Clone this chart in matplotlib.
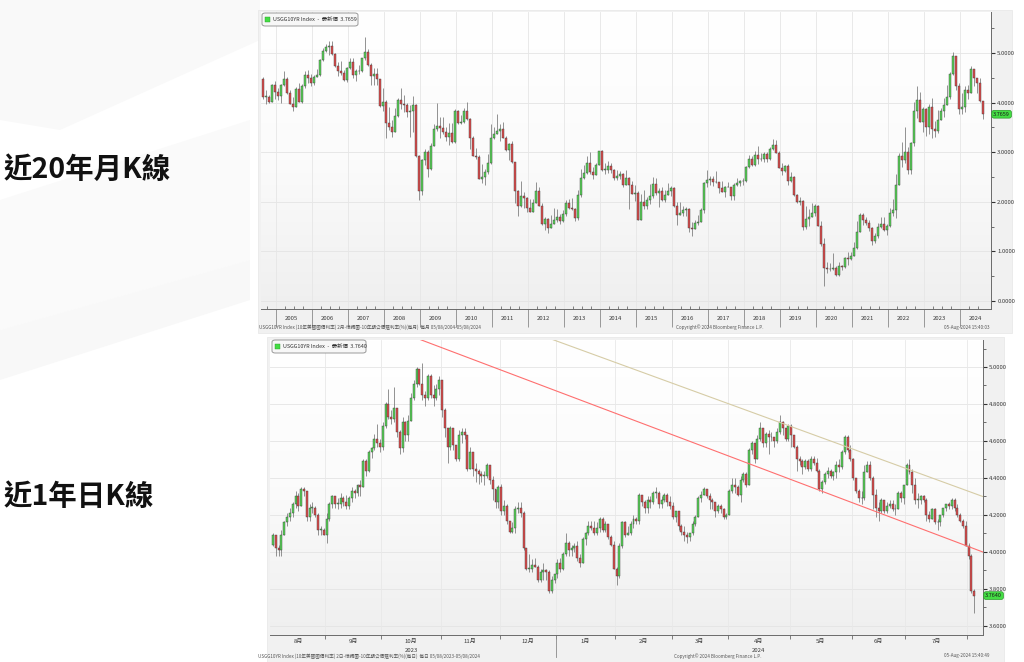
import numpy as np
import pandas as pd
import matplotlib
matplotlib.use('Agg')
import matplotlib.pyplot as plt
from matplotlib.transforms import blended_transform_factory as btf
from matplotlib.patches import Rectangle, Polygon
from matplotlib.colors import LinearSegmentedColormap

plt.rcParams['font.family'] = ['Noto Sans CJK TC', 'DejaVu Sans']

# ---------------- monthly data (Aug 2004 - Aug 2024) ----------------
m_start = '2004-08-01'
m_open0 = 4.47
m_close = [
    4.12, 4.12, 4.02, 4.35, 4.22,
    4.13, 4.36, 4.48, 4.20, 3.98, 3.92, 4.28, 4.02, 4.33, 4.56, 4.49, 4.39,
    4.52, 4.55, 4.85, 5.05, 5.12, 5.14, 4.98, 4.73, 4.63, 4.60, 4.46, 4.70,
    4.82, 4.56, 4.64, 4.63, 4.89, 5.03, 4.76, 4.53, 4.58, 4.47, 3.94, 4.02,
    3.59, 3.51, 3.41, 3.73, 4.06, 3.97, 3.95, 3.81, 3.83, 3.95, 2.92, 2.21,
    2.84, 3.01, 2.66, 3.12, 3.46, 3.53, 3.48, 3.40, 3.31, 3.38, 3.20, 3.84,
    3.58, 3.61, 3.83, 3.66, 3.29, 2.93, 2.91, 2.47, 2.51, 2.60, 2.79, 3.29,
    3.37, 3.42, 3.47, 3.29, 3.05, 3.16, 2.80, 2.22, 1.92, 2.11, 2.07, 1.88,
    1.80, 1.97, 2.21, 1.91, 1.56, 1.65, 1.47, 1.55, 1.63, 1.69, 1.61, 1.76,
    1.98, 1.88, 1.85, 1.67, 2.13, 2.49, 2.58, 2.78, 2.61, 2.55, 2.74, 3.03,
    2.64, 2.65, 2.72, 2.65, 2.48, 2.53, 2.56, 2.34, 2.49, 2.34, 2.16, 2.17,
    1.64, 1.99, 1.92, 2.03, 2.12, 2.35, 2.18, 2.21, 2.04, 2.14, 2.21, 2.27,
    1.92, 1.73, 1.77, 1.83, 1.85, 1.47, 1.45, 1.58, 1.59, 1.83, 2.38, 2.44,
    2.45, 2.39, 2.39, 2.28, 2.20, 2.30, 2.29, 2.12, 2.33, 2.38, 2.41, 2.41,
    2.71, 2.86, 2.74, 2.95, 2.86, 2.86, 2.96, 2.86, 3.06, 3.14, 2.99, 2.68,
    2.63, 2.72, 2.41, 2.50, 2.13, 2.00, 2.01, 1.50, 1.66, 1.69, 1.78, 1.92,
    1.51, 1.15, 0.67, 0.64, 0.65, 0.66, 0.53, 0.70, 0.68, 0.87, 0.84, 0.91,
    1.07, 1.40, 1.74, 1.63, 1.58, 1.47, 1.22, 1.31, 1.49, 1.55, 1.44, 1.51,
    1.78, 1.83, 2.34, 2.93, 2.84, 3.01, 2.65, 3.19, 3.83, 4.05, 3.61, 3.87,
    3.51, 3.92, 3.47, 3.42, 3.64, 3.84, 3.96, 4.11, 4.57, 4.93, 4.33, 3.88,
    3.91, 4.25, 4.20, 4.68, 4.50, 4.40, 4.03, 3.7659,
]
m_high = [
    4.52, 4.25, 4.16, 4.38, 4.44,
    4.30, 4.38, 4.64, 4.52, 4.25, 4.12, 4.32, 4.39, 4.37, 4.64, 4.66, 4.57,
    4.55, 4.67, 4.87, 5.11, 5.19, 5.25, 5.24, 5.00, 4.81, 4.83, 4.65, 4.71,
    4.90, 4.90, 4.68, 4.76, 4.90, 5.32, 5.09, 4.80, 4.69, 4.70, 4.48, 4.29,
    4.05, 3.92, 3.64, 3.89, 4.10, 4.30, 4.15, 3.99, 3.95, 4.13, 3.98, 2.95,
    2.87, 3.07, 3.05, 3.19, 3.57, 4.00, 3.72, 3.71, 3.51, 3.58, 3.59, 3.87,
    3.86, 3.76, 3.90, 4.01, 3.68, 3.33, 3.08, 2.95, 2.76, 2.66, 2.97, 3.56,
    3.50, 3.77, 3.56, 3.60, 3.32, 3.18, 3.23, 2.80, 2.23, 2.42, 2.19, 2.09,
    2.05, 2.06, 2.40, 2.30, 1.97, 1.70, 1.68, 1.73, 1.87, 1.85, 1.76, 1.84,
    2.04, 2.06, 2.08, 1.87, 2.23, 2.66, 2.74, 2.92, 3.01, 2.70, 2.79, 3.03,
    3.05, 2.79, 2.83, 2.78, 2.67, 2.65, 2.62, 2.58, 2.65, 2.51, 2.42, 2.33,
    2.21, 2.16, 2.24, 2.09, 2.36, 2.50, 2.48, 2.27, 2.29, 2.24, 2.38, 2.32,
    2.30, 2.00, 1.99, 1.91, 1.89, 1.87, 1.60, 1.63, 1.74, 1.87, 2.40, 2.64,
    2.53, 2.52, 2.63, 2.40, 2.42, 2.32, 2.40, 2.30, 2.37, 2.48, 2.43, 2.49,
    2.73, 2.95, 2.92, 3.03, 3.13, 2.98, 3.00, 3.01, 3.10, 3.26, 3.24, 3.02,
    2.79, 2.74, 2.76, 2.60, 2.52, 2.16, 2.10, 2.03, 1.91, 1.85, 1.97, 1.96,
    1.94, 1.62, 1.27, 0.78, 0.77, 0.96, 0.70, 0.78, 0.72, 0.89, 0.98, 0.98,
    1.19, 1.61, 1.78, 1.77, 1.70, 1.63, 1.49, 1.38, 1.57, 1.70, 1.69, 1.55,
    1.88, 2.05, 2.56, 2.98, 3.20, 3.50, 3.10, 3.20, 4.01, 4.34, 4.21, 3.91,
    3.90, 3.98, 4.09, 3.62, 3.86, 3.89, 4.09, 4.36, 4.61, 5.02, 4.92, 4.40,
    4.19, 4.33, 4.35, 4.74, 4.63, 4.48, 4.50, 4.00,
]
m_low = [
    4.08, 3.98, 3.99, 4.01, 4.07,
    4.06, 4.00, 4.33, 4.18, 3.97, 3.84, 3.91, 4.01, 3.99, 4.29, 4.39, 4.34,
    4.35, 4.51, 4.53, 4.84, 5.03, 4.97, 4.97, 4.72, 4.53, 4.55, 4.44, 4.42,
    4.67, 4.49, 4.44, 4.58, 4.62, 4.86, 4.74, 4.36, 4.35, 4.35, 3.91, 3.83,
    3.28, 3.45, 3.31, 3.43, 3.70, 3.88, 3.82, 3.72, 3.30, 3.41, 2.90, 2.04,
    2.14, 2.74, 2.51, 2.64, 3.13, 3.43, 3.29, 3.36, 3.22, 3.15, 3.19, 3.18,
    3.56, 3.56, 3.58, 3.64, 3.06, 2.93, 2.86, 2.47, 2.38, 2.33, 2.56, 2.77,
    3.26, 3.39, 3.22, 3.28, 3.02, 2.84, 2.78, 1.98, 1.72, 1.89, 1.88, 1.79,
    1.80, 1.89, 1.97, 1.91, 1.53, 1.44, 1.38, 1.50, 1.57, 1.60, 1.55, 1.59,
    1.72, 1.86, 1.83, 1.61, 1.63, 2.10, 2.45, 2.57, 2.56, 2.47, 2.54, 2.74,
    2.63, 2.57, 2.59, 2.58, 2.44, 2.44, 2.45, 2.30, 2.33, 1.86, 2.15, 2.02,
    1.64, 1.68, 1.86, 1.85, 1.95, 2.08, 2.14, 1.90, 2.02, 1.99, 2.13, 2.12,
    1.90, 1.53, 1.73, 1.71, 1.71, 1.39, 1.32, 1.50, 1.53, 1.59, 1.77, 2.29,
    2.33, 2.31, 2.37, 2.17, 2.19, 2.10, 2.29, 2.03, 2.04, 2.31, 2.31, 2.33,
    2.40, 2.69, 2.73, 2.73, 2.76, 2.82, 2.81, 2.81, 2.84, 3.05, 2.98, 2.68,
    2.55, 2.61, 2.34, 2.39, 2.12, 1.97, 1.94, 1.43, 1.46, 1.51, 1.69, 1.71,
    1.51, 1.11, 0.31, 0.57, 0.60, 0.62, 0.50, 0.50, 0.62, 0.67, 0.73, 0.82,
    0.90, 1.05, 1.39, 1.53, 1.54, 1.42, 1.13, 1.17, 1.28, 1.47, 1.42, 1.34,
    1.50, 1.72, 1.68, 2.34, 2.71, 2.79, 2.57, 2.57, 3.13, 3.69, 3.61, 3.40,
    3.32, 3.37, 3.29, 3.31, 3.38, 3.64, 3.72, 3.98, 4.07, 4.55, 4.26, 3.78,
    3.78, 3.82, 4.07, 4.29, 4.33, 4.19, 4.01, 3.67,
]
m_years = list(range(2005, 2025))
m_last = 3.7659

# ---------------- daily data (07 Aug 2023 - 05 Aug 2024) ----------------
d_start, d_end = '2023-08-07', '2024-08-05'
d_holidays = ['2023-09-04', '2023-10-09', '2023-11-23', '2023-12-25', '2024-01-01',
              '2024-01-15', '2024-02-19', '2024-03-29', '2024-05-27', '2024-06-19',
              '2024-07-04']
d_open0 = 4.04
d_close = [
    4.09, 4.02, 4.01, 4.09, 4.16, 4.19, 4.21, 4.26, 4.30, 4.25, 4.34, 4.33, 4.19, 4.24, 4.24, 4.20, 4.12, 4.12, 4.09,
    4.18, 4.26, 4.30, 4.26, 4.26, 4.29, 4.27, 4.25, 4.29, 4.33, 4.32, 4.36, 4.35, 4.49, 4.44, 4.54, 4.56, 4.61, 4.59, 4.57,
    4.68, 4.80, 4.73, 4.72, 4.78, 4.65, 4.56, 4.70, 4.63, 4.71, 4.83, 4.91, 4.99, 4.91, 4.85, 4.83, 4.95, 4.85, 4.83, 4.88, 4.93,
    4.77, 4.67, 4.57, 4.67, 4.58, 4.50, 4.63, 4.65, 4.63, 4.45, 4.54, 4.45, 4.44, 4.42, 4.41, 4.41, 4.47, 4.39, 4.34, 4.27, 4.35,
    4.22, 4.25, 4.17, 4.11, 4.13, 4.23, 4.24, 4.21, 4.02, 3.91, 3.91, 3.93, 3.92, 3.85, 3.89, 3.90, 3.89, 3.79, 3.85, 3.88,
    3.94, 3.91, 3.99, 4.05, 4.01, 4.02, 4.03, 3.97, 3.94, 4.07, 4.10, 4.14, 4.13, 4.10, 4.13, 4.18, 4.12, 4.15, 4.08, 4.04, 3.91,
    3.87, 4.03, 4.16, 4.09, 4.10, 4.15, 4.18, 4.17, 4.31, 4.27, 4.24, 4.28, 4.27, 4.32, 4.32, 4.26, 4.28, 4.31, 4.27, 4.25,
    4.19, 4.22, 4.14, 4.11, 4.09, 4.08, 4.10, 4.15, 4.19, 4.29, 4.31, 4.34, 4.30, 4.28, 4.27, 4.22, 4.25, 4.23, 4.19, 4.20,
    4.33, 4.36, 4.35, 4.31, 4.39, 4.42, 4.36, 4.55, 4.59, 4.50, 4.61, 4.67, 4.59, 4.64, 4.62, 4.62, 4.60, 4.65, 4.70, 4.67, 4.61, 4.68,
    4.63, 4.57, 4.50, 4.49, 4.46, 4.49, 4.45, 4.50, 4.48, 4.44, 4.34, 4.38, 4.42, 4.44, 4.41, 4.43, 4.47, 4.46, 4.54, 4.62, 4.55, 4.50,
    4.40, 4.33, 4.29, 4.29, 4.43, 4.47, 4.40, 4.31, 4.24, 4.22, 4.28, 4.22, 4.25, 4.26, 4.23, 4.23, 4.32, 4.29, 4.36,
    4.47, 4.43, 4.36, 4.28, 4.28, 4.30, 4.28, 4.20, 4.18, 4.23, 4.16, 4.16, 4.20, 4.24, 4.26, 4.25, 4.28, 4.24, 4.20, 4.17, 4.14, 4.03,
    3.98, 3.79, 3.7640,
]
d_high = [
    4.10, 4.09, 4.04, 4.12, 4.17, 4.21, 4.24, 4.27, 4.33, 4.32, 4.35, 4.35, 4.32, 4.26, 4.27, 4.25, 4.21, 4.14, 4.13,
    4.21, 4.27, 4.31, 4.30, 4.29, 4.32, 4.30, 4.31, 4.30, 4.35, 4.34, 4.37, 4.39, 4.50, 4.50, 4.55, 4.57, 4.64, 4.69, 4.61,
    4.70, 4.81, 4.88, 4.77, 4.89, 4.73, 4.66, 4.73, 4.71, 4.74, 4.86, 4.93, 5.00, 4.99, 5.02, 4.87, 4.96, 4.96, 4.90, 4.91, 4.95,
    4.92, 4.78, 4.67, 4.68, 4.67, 4.58, 4.66, 4.67, 4.67, 4.62, 4.57, 4.53, 4.48, 4.45, 4.44, 4.44, 4.48, 4.47, 4.41, 4.32, 4.36,
    4.37, 4.28, 4.26, 4.17, 4.16, 4.25, 4.27, 4.27, 4.22, 4.02, 3.99, 3.96, 3.97, 3.93, 3.91, 3.94, 3.91, 3.90, 3.87, 3.88,
    3.96, 3.97, 4.00, 4.10, 4.06, 4.04, 4.05, 4.06, 3.99, 4.08, 4.11, 4.17, 4.17, 4.17, 4.16, 4.19, 4.19, 4.17, 4.15, 4.09, 4.06,
    3.92, 4.05, 4.17, 4.17, 4.14, 4.17, 4.20, 4.19, 4.32, 4.31, 4.28, 4.30, 4.30, 4.33, 4.35, 4.33, 4.30, 4.32, 4.32, 4.30,
    4.27, 4.22, 4.21, 4.15, 4.14, 4.11, 4.10, 4.17, 4.20, 4.30, 4.33, 4.35, 4.34, 4.32, 4.29, 4.26, 4.26, 4.26, 4.24, 4.21,
    4.34, 4.40, 4.40, 4.36, 4.41, 4.43, 4.43, 4.56, 4.60, 4.58, 4.63, 4.70, 4.67, 4.65, 4.66, 4.65, 4.62, 4.67, 4.74, 4.71, 4.67, 4.69,
    4.69, 4.63, 4.58, 4.52, 4.50, 4.50, 4.50, 4.52, 4.52, 4.51, 4.45, 4.39, 4.43, 4.46, 4.45, 4.44, 4.49, 4.50, 4.55, 4.63, 4.63, 4.58,
    4.51, 4.40, 4.34, 4.33, 4.47, 4.49, 4.49, 4.41, 4.34, 4.27, 4.29, 4.28, 4.27, 4.28, 4.28, 4.26, 4.33, 4.33, 4.36,
    4.48, 4.50, 4.45, 4.40, 4.32, 4.31, 4.31, 4.29, 4.22, 4.24, 4.24, 4.18, 4.20, 4.24, 4.26, 4.27, 4.29, 4.29, 4.26, 4.21, 4.18, 4.17,
    4.05, 3.99, 3.80,
]
d_low = [
    4.03, 3.98, 3.98, 3.98, 4.09, 4.14, 4.17, 4.19, 4.24, 4.22, 4.25, 4.30, 4.17, 4.17, 4.21, 4.19, 4.09, 4.09, 4.09,
    4.05, 4.17, 4.24, 4.24, 4.23, 4.24, 4.25, 4.23, 4.23, 4.27, 4.29, 4.30, 4.30, 4.37, 4.41, 4.43, 4.51, 4.55, 4.57, 4.54,
    4.55, 4.67, 4.72, 4.69, 4.70, 4.62, 4.53, 4.54, 4.60, 4.60, 4.72, 4.82, 4.89, 4.90, 4.82, 4.79, 4.82, 4.83, 4.79, 4.82, 4.85,
    4.73, 4.62, 4.48, 4.55, 4.55, 4.49, 4.49, 4.59, 4.61, 4.44, 4.46, 4.41, 4.38, 4.37, 4.38, 4.36, 4.40, 4.37, 4.28, 4.24, 4.24,
    4.20, 4.20, 4.15, 4.10, 4.10, 4.10, 4.21, 4.19, 4.01, 3.90, 3.89, 3.89, 3.92, 3.84, 3.84, 3.85, 3.85, 3.78, 3.78, 3.83,
    3.86, 3.89, 3.90, 3.98, 3.98, 3.98, 4.00, 3.95, 3.92, 3.95, 4.04, 4.09, 4.12, 4.09, 4.09, 4.11, 4.11, 4.11, 4.07, 4.03, 3.91,
    3.82, 3.86, 4.02, 4.08, 4.09, 4.09, 4.13, 4.15, 4.15, 4.25, 4.21, 4.21, 4.24, 4.26, 4.29, 4.24, 4.24, 4.27, 4.25, 4.23,
    4.18, 4.16, 4.12, 4.09, 4.06, 4.05, 4.06, 4.09, 4.14, 4.19, 4.27, 4.31, 4.29, 4.23, 4.23, 4.19, 4.21, 4.21, 4.18, 4.18,
    4.21, 4.32, 4.32, 4.30, 4.27, 4.38, 4.35, 4.39, 4.53, 4.48, 4.50, 4.60, 4.57, 4.57, 4.53, 4.60, 4.57, 4.59, 4.64, 4.63, 4.60, 4.60,
    4.57, 4.56, 4.44, 4.47, 4.42, 4.45, 4.44, 4.44, 4.47, 4.43, 4.33, 4.32, 4.37, 4.40, 4.40, 4.39, 4.40, 4.43, 4.45, 4.53, 4.54, 4.49,
    4.39, 4.32, 4.27, 4.26, 4.28, 4.43, 4.39, 4.23, 4.19, 4.17, 4.21, 4.21, 4.21, 4.24, 4.22, 4.20, 4.23, 4.27, 4.26,
    4.36, 4.42, 4.32, 4.26, 4.24, 4.26, 4.27, 4.17, 4.16, 4.18, 4.15, 4.12, 4.14, 4.19, 4.22, 4.23, 4.23, 4.22, 4.19, 4.16, 4.13, 4.03,
    3.96, 3.78, 3.67,
]
d_month_labels = ['8月', '9月', '10月', '11月', '12月', '1月', '2月', '3月', '4月', '5月', '6月', '7月']
d_year_labels = {'2023': '2023-10', '2024': '2024-04'}
d_last = 3.7640
# trend lines: (trading-day index, value) endpoints
trend_red = ([52, 252], [5.15, 4.00])
trend_tan = ([99, 252], [5.15, 4.30])

GREEN = '#57d457'
RED = '#de4c4c'
EDGE = '#3c3c3c'
WICK = '#808080'
LBL = '#3a3a3a'

W, H = 1024, 662
fig = plt.figure(figsize=(W / 100, H / 100), dpi=100)
fig.patch.set_facecolor('white')


def fx(px):
    return px / W


def fy(py):
    return 1 - py / H


# faint slide decorations
for pts, col in [([(0, 0), (260, 0), (260, 40), (60, 130), (0, 120)], '#f9f9f9'),
                 ([(0, 200), (250, 120), (250, 260), (0, 330)], '#fafafa'),
                 ([(0, 330), (250, 260), (250, 300), (0, 380)], '#f8f8f8')]:
    fig.add_artist(Polygon([(fx(a), fy(b)) for a, b in pts], closed=True,
                           transform=fig.transFigure, fc=col, ec='none', zorder=0))

# panel backgrounds
fig.add_artist(Rectangle((fx(258), fy(333)), fx(1012) - fx(258), fy(10) - fy(333),
                         transform=fig.transFigure, fc='#f1f1f1', ec='#e6e6e6', lw=0.5, zorder=0))
fig.add_artist(Rectangle((fx(267), fy(662)), fx(1004) - fx(267), fy(337) - fy(662),
                         transform=fig.transFigure, fc='#f1f1f1', ec='#e6e6e6', lw=0.5, zorder=0))

grad = LinearSegmentedColormap.from_list('g', ['#efefef', '#fbfbfb', '#ffffff'])


def style_axes(ax):
    ax.set_facecolor('none')
    ax.imshow(np.linspace(0, 1, 256).reshape(-1, 1), extent=[0, 1, 0, 1], origin='lower',
              transform=ax.transAxes, cmap=grad, aspect='auto', zorder=0)
    for s in ['top', 'left']:
        ax.spines[s].set_visible(False)
    for s in ['right', 'bottom']:
        ax.spines[s].set_color('#6a6a6a')
        ax.spines[s].set_linewidth(0.7)
    ax.yaxis.tick_right()
    ax.tick_params(axis='y', which='major', direction='out', length=3, width=0.8,
                   colors='#333333', labelsize=4.3, labelcolor=LBL, pad=1.5)
    ax.tick_params(axis='y', which='minor', direction='out', length=2, width=0.6, colors='#555555')
    ax.grid(axis='y', color='#e4e4e4', lw=0.6)
    ax.set_axisbelow(True)


def candles(ax, x, o, h, l, c, w, minh):
    o, h, l, c = map(np.asarray, (o, h, l, c))
    h = np.maximum(h, np.maximum(o, c))
    l = np.minimum(l, np.minimum(o, c))
    col = np.where(c >= o, GREEN, RED)
    ax.vlines(x, l, h, color=WICK, lw=0.6, zorder=2)
    bottom = np.minimum(o, c)
    height = np.maximum(np.abs(c - o), minh)
    ax.bar(x, height, w, bottom=bottom, color=col, edgecolor=EDGE, lw=0.3, zorder=3)


def legend_box(ax, text, x0_px, y0_px, w_px, h_px):
    # rounded frame + green square + label, in figure pixel space
    from matplotlib.patches import FancyBboxPatch
    fig.add_artist(FancyBboxPatch((fx(x0_px), fy(y0_px + h_px)), fx(w_px), h_px / H,
                                  boxstyle='round,pad=0,rounding_size=0.003',
                                  transform=fig.transFigure, fc='#f7f7f7', ec='#8a8a8a', lw=0.6, zorder=5))
    fig.add_artist(Rectangle((fx(x0_px + 3), fy(y0_px + h_px / 2 + 2.5)), fx(5), 5 / H,
                             transform=fig.transFigure, fc='#44dd44', ec='#2a9a2a', lw=0.3, zorder=6))
    fig.text(fx(x0_px + 11), fy(y0_px + h_px / 2), text, fontsize=3.9, color='#333333',
             va='center', ha='left', zorder=6)


def last_label(ax, v):
    ax.text(1.003, v, f'{v:.4f}', transform=btf(ax.transAxes, ax.transData), fontsize=4.0,
            color='#1a1a1a', va='center', ha='left', zorder=6, clip_on=False,
            bbox=dict(boxstyle='round,pad=0.25,rounding_size=0.4', fc='#44dd44', ec='#2a9a2a', lw=0.5))


# ================= top: monthly =================
ax1 = fig.add_axes([fx(261), fy(309), fx(991) - fx(261), fy(12) - fy(309)])
style_axes(ax1)
mc = np.array(m_close)
mo = np.concatenate([[m_open0], mc[:-1]])
mx = np.arange(len(mc))
candles(ax1, mx, mo, m_high, m_low, mc, 0.72, 0.012)
ax1.set_xlim(-0.6, 242.7)
ax1.set_ylim(-0.161, 5.827)
ax1.set_yticks(np.arange(0, 5.01, 1.0))
ax1.set_yticks(np.arange(0.5, 5.6, 1.0), minor=True)
ax1.yaxis.set_major_formatter(matplotlib.ticker.FormatStrFormatter('%.4f'))
m_dates = pd.date_range(m_start, periods=len(mc), freq='MS')
jan_idx = [int(np.where((m_dates.year == y) & (m_dates.month == 1))[0][0]) for y in m_years]
q_idx = [i for i in range(len(mc)) if m_dates[i].month in (4, 7, 10)]
ax1.set_xticks([j - 0.5 for j in jan_idx])
ax1.set_xticklabels([])
ax1.set_xticks([j - 0.5 for j in q_idx], minor=True)
ax1.tick_params(axis='x', which='major', direction='out', length=13, width=0.6, colors='#8a8a8a')
ax1.tick_params(axis='x', which='minor', direction='in', length=2.5, width=0.6, colors='#6a6a6a')
for j in jan_idx:
    ax1.axvline(j - 0.5, color='#e6e6e6', lw=0.6, zorder=1)
tr1 = btf(ax1.transData, ax1.transAxes)
for y, j in zip(m_years, jan_idx):
    ax1.text(j + 4.5, -0.025, str(y), transform=tr1, fontsize=4.3, color=LBL, ha='center', va='top')
legend_box(ax1, 'USGG10YR Index  -  最新價  3.7659', 262, 13, 96, 13)
last_label(ax1, m_last)

fig.text(fx(259), fy(327), 'USGG10YR Index (10年美國國債利率) 2月-蠟燭圖-10年期公債殖利率(%)(每月)  每月 05/08/2004-05/08/2024',
         fontsize=3.3, color='#555555', va='center', ha='left')
fig.text(fx(720), fy(327), 'Copyright© 2024 Bloomberg Finance L.P.', fontsize=3.3, color='#555555',
         va='center', ha='center')
fig.text(fx(989), fy(327), '05-Aug-2024 15:40:03', fontsize=3.3, color='#555555', va='center', ha='right')

# ================= bottom: daily =================
ax2 = fig.add_axes([fx(270), fy(635), fx(983) - fx(270), fy(340) - fy(635)])
style_axes(ax2)
d_dates = pd.bdate_range(d_start, d_end, freq='C', holidays=d_holidays)
n = min(len(d_dates), len(d_close), len(d_high), len(d_low))
dc = np.array(d_close[:n])
do = np.concatenate([[d_open0], dc[:-1]])
dx = np.arange(n)
d_dates = d_dates[:n]
candles(ax2, dx, do, d_high[:n], d_low[:n], dc, 0.7, 0.004)
ax2.plot(trend_red[0], trend_red[1], color='#ff6f6f', lw=0.8, zorder=4)
ax2.plot(trend_tan[0], trend_tan[1], color='#d6cca6', lw=0.8, zorder=4)
ax2.set_xlim(-1.07, 252.1)
ax2.set_ylim(3.551, 5.146)
ax2.set_yticks(np.arange(3.6, 5.01, 0.2))
ax2.set_yticks(np.arange(3.7, 5.11, 0.2), minor=True)
ax2.yaxis.set_major_formatter(matplotlib.ticker.FormatStrFormatter('%.4f'))
per = d_dates.to_period('M')
months = per.unique()
starts = [int(np.where(per == m)[0][0]) for m in months]
ends = [int(np.where(per == m)[0][-1]) for m in months]
ax2.set_xticks([s - 0.5 for s in starts[1:]])
ax2.set_xticklabels([])
ax2.tick_params(axis='x', which='major', direction='out', length=3, width=0.6, colors='#6a6a6a')
for s in starts[1:]:
    ax2.axvline(s - 0.5, color='#e8e8e8', lw=0.6, zorder=1)
tr2 = btf(ax2.transData, ax2.transAxes)
for k, lab in enumerate(d_month_labels):
    ax2.text((starts[k] + ends[k]) / 2, -0.012, lab, transform=tr2, fontsize=4.3, color=LBL,
             ha='center', va='top')
for lab, mstr in d_year_labels.items():
    k = list(months.astype(str)).index(mstr)
    ax2.text((starts[k] + ends[k]) / 2, -0.045, lab, transform=tr2, fontsize=4.3, color=LBL,
             ha='center', va='top')
kjan = list(months.astype(str)).index('2024-01')
ax2.plot([starts[kjan] - 0.5] * 2, [0, -0.075], transform=tr2, color='#8a8a8a', lw=0.6, clip_on=False)
legend_box(ax2, 'USGG10YR Index  -  最新價  3.7640', 272, 340, 94, 13)
last_label(ax2, d_last)

fig.text(fx(258), fy(656), 'USGG10YR Index (10年美國國債利率) 2日-蠟燭圖-10年期公債殖利率(%)(每日)  每日 05/08/2023-05/08/2024',
         fontsize=3.3, color='#555555', va='center', ha='left')
fig.text(fx(718), fy(656), 'Copyright© 2024 Bloomberg Finance L.P.', fontsize=3.3, color='#555555',
         va='center', ha='center')
fig.text(fx(990), fy(656), '05-Aug-2024 15:40:49', fontsize=3.3, color='#555555', va='center', ha='right')

# left captions
fig.text(fx(4), fy(170), '近20年月K線', fontsize=20.5, fontweight='bold', color='#111111',
         va='center', ha='left')
fig.text(fx(4), fy(497), '近1年日K線', fontsize=20.5, fontweight='bold', color='#111111',
         va='center', ha='left')

fig.savefig('out.png', dpi=100)
